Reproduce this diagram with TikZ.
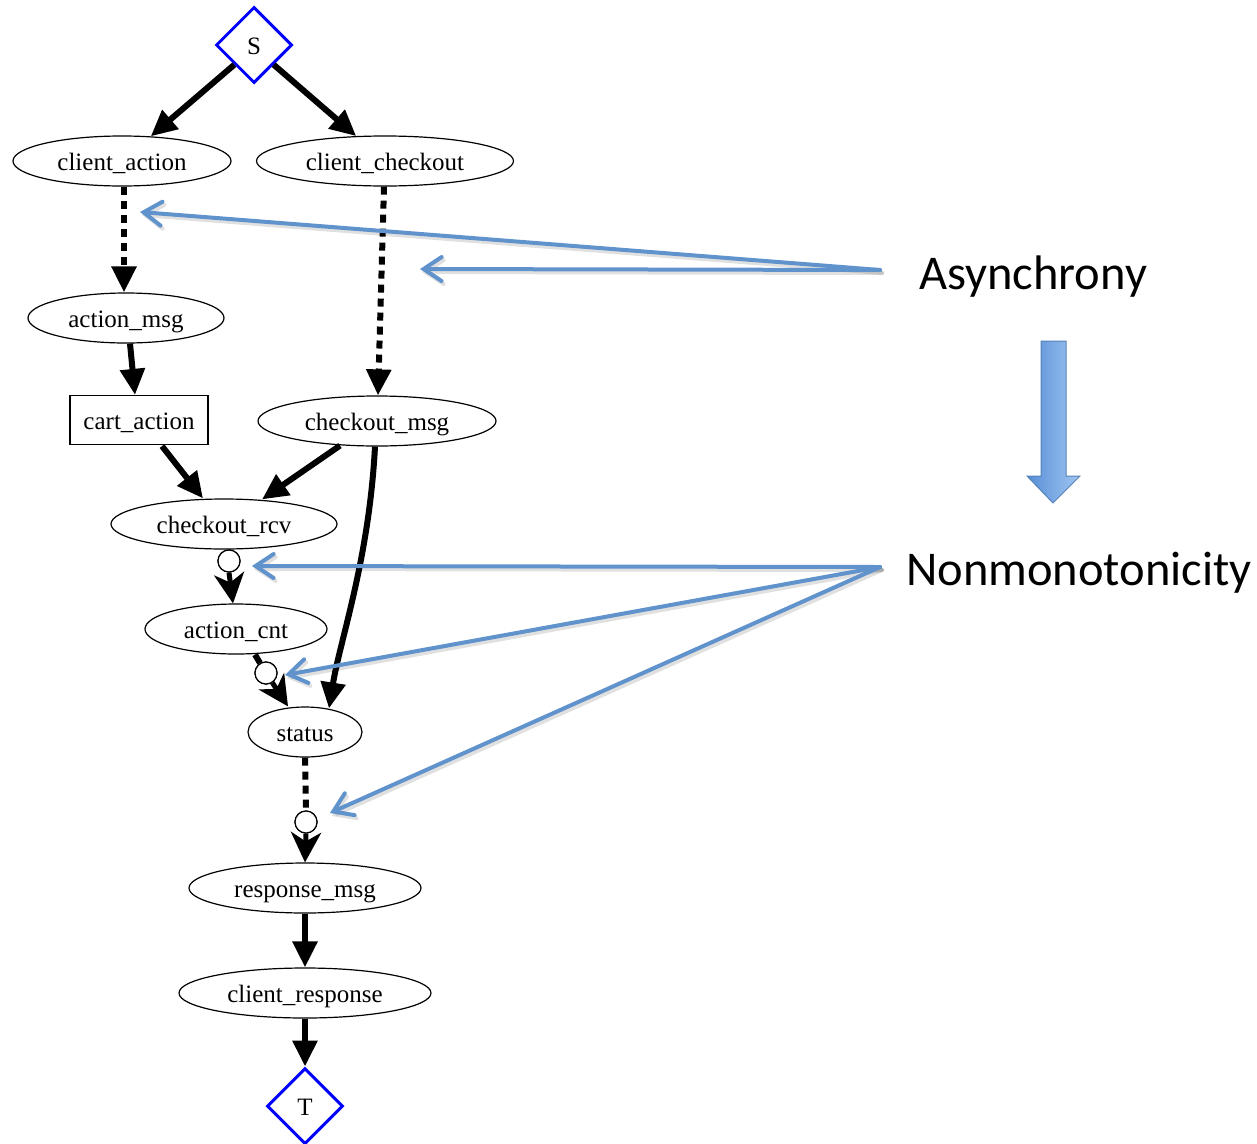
\documentclass[tikz,border=0pt]{standalone}
\usepackage{fontspec}
\setmainfont{Liberation Serif}
\newfontfamily\notefont{Carlito}
\usetikzlibrary{shapes.geometric,arrows.meta,calc}
\definecolor{noteblue}{RGB}{96,146,204}
\definecolor{blockdark}{RGB}{88,142,214}
\definecolor{blocklight}{RGB}{160,198,242}
\begin{document}
\begin{tikzpicture}[x=1pt,y=-1pt,
  every node/.style={font=\fontsize{25}{30}\selectfont},
  boxtext/.style={text height=19pt,text depth=1pt},
  oval/.style={ellipse,draw,line width=1.2pt,inner sep=0pt,minimum height=50pt,boxtext},
  gate/.style={diamond,draw=blue,line width=3pt,minimum width=76pt,minimum height=76pt,inner sep=0pt,boxtext},
  flow/.style={line width=6pt,-{Triangle[length=26pt,width=24pt]}},
  async/.style={flow,dash pattern=on 8pt off 6pt},
  negc/.style={circle,draw,line width=1.2pt,minimum size=22pt,inner sep=0pt,fill=white},
  negflow/.style={line width=5pt,-{Stealth[length=30pt,width=30pt,inset=9pt]}},
  note/.style={draw=noteblue,line width=4pt,line cap=round,line join=round,
    -{Straight Barb[length=18pt,width=24pt,line cap=round]}},
  notetext/.style={font=\notefont\fontsize{48.5}{58}\selectfont,anchor=base west,inner sep=0pt}
]
\useasboundingbox (0,0) rectangle (1257,1143);

% nodes of the dataflow graph
\node[gate] (S) at (254,45) {S};
\node[oval,minimum width=218pt] (ca) at (122,161) {client\_action};
\node[oval,minimum width=257pt] (cc) at (385,161) {client\_checkout};
\node[oval,minimum width=196pt] (am) at (126,318) {action\_msg};
\node[draw,line width=1.2pt,minimum width=138pt,minimum height=49pt,inner sep=0pt,boxtext] (cart) at (139,420) {cart\_action};
\node[oval,minimum width=238pt] (cm) at (377,421) {checkout\_msg};
\node[oval,minimum width=226pt] (rcv) at (224,524) {checkout\_rcv};
\node[oval,minimum width=182pt] (cnt) at (236,629) {action\_cnt};
\node[oval,minimum width=114pt] (st) at (305,732) {status};
\node[oval,minimum width=232pt] (rm) at (305,888) {response\_msg};
\node[oval,minimum width=252pt] (cr) at (305,993) {client\_response};
\node[gate] (T) at (305,1106) {T};

% negation markers
\node[negc] (o1) at (229,561) {};
\node[negc] (o2) at (266,673) {};
\node[negc] (o3) at (306,822) {};

% edges
\draw[flow] (S.south west) -- (ca);
\draw[flow] (S.south east) -- (cc);
\draw[async] ($(ca.south)+(2,0)$) -- ($(am.north)+(-2,0)$);
\draw[async] ($(cc.south)+(-1,0)$) -- ($(cm.north)+(1,0)$);
\draw[flow] ($(am.south)+(4,0)$) -- ($(cart.north)+(-4,0)$);
\draw[flow] ($(cart.south)+(23,1)$) -- ($(rcv.north)+(-21,0)$);
\draw[flow] ($(cm.south)+(-37,-1)$) -- ($(rcv.north)+(38,1)$);
\draw[flow] ($(cm.south)+(-2,0)$) .. controls (369,560) and (340,640) .. ($(st.north)+(24,2)$);
\draw[negflow] (o1.south) -- ($(cnt.north)+(-3,0)$);
\draw[line width=6pt] ($(cnt.south)+(19,0)$) -- (o2);
\draw[negflow] (o2) -- ($(st.north)+(-17,0)$);
\draw[line width=6pt,dash pattern=on 8pt off 6pt] (st.south) -- (o3.north);
\draw[negflow] (o3.south) -- (rm.north);
\draw[flow] (rm.south) -- (cr.north);
\draw[flow] (cr.south) -- (T.north);
\node[negc] at (o1) {};
\node[negc] at (o2) {};
\node[negc] at (o3) {};

% annotations
\node[notetext] (asyn) at (919,289) {Asynchrony};
\node[notetext] (nonm) at (906,585) {Nonmonotonicity};
\coordinate (asrc) at (880,270);
\coordinate (nsrc) at (880,567);
\coordinate (t1) at (140,212);
\coordinate (t2) at (420,269);
\coordinate (t3) at (252,566);
\coordinate (t4) at (285,675);
\coordinate (t5) at (330,813);
\foreach \s/\t in {asrc/t1,asrc/t2,nsrc/t3,nsrc/t4,nsrc/t5}{
  \draw[note,draw=black,opacity=0.12,transform canvas={shift={(2pt,-3pt)}}] (\s) -- (\t);
  \draw[note] (\s) -- (\t);
}

% block arrow between the two annotations
\path[left color=blockdark,right color=blocklight,draw=noteblue!90!black,line width=1pt]
  (1041,341) -- (1066,341) -- (1066,476) -- (1080,476) -- (1053,503)
  -- (1027,476) -- (1041,476) -- cycle;
\end{tikzpicture}
\end{document}
